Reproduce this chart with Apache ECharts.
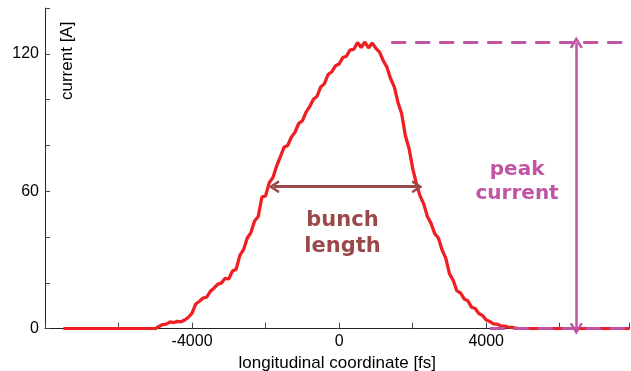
<!DOCTYPE html>
<html><head><meta charset="utf-8">
<script src="https://cdn.jsdelivr.net/npm/echarts@6/dist/echarts.min.js"></script>
<style>html,body{margin:0;padding:0;background:#fff}#c{width:631px;height:371px}</style>
</head><body><div id="c"></div>
<script>
const xPositions = [-7500,-5000,-4900,-4800,-4700,-4600,-4500,-4400,-4300,-4200,-4100,-4000,-3900,-3800,-3700,-3600,-3500,-3400,-3300,-3200,-3100,-3000,-2900,-2800,-2700,-2600,-2500,-2400,-2300,-2200,-2100,-2000,-1900,-1800,-1700,-1600,-1500,-1400,-1300,-1200,-1100,-1000,-900,-800,-700,-600,-500,-400,-300,-200,-100,0,100,200,300,400,500,600,700,800,900,1000,1100,1200,1300,1400,1500,1600,1700,1800,1900,2000,2100,2200,2300,2400,2500,2600,2700,2800,2900,3000,3100,3200,3300,3400,3500,3600,3700,3800,3900,4000,4100,4200,4300,4400,4500,4600,4700,4800,4900,7900];
const currentValues = [0,0,
  1.0,1.8,2.0,3.0,2.7,3.2,3.0,3.8,5.0,6.8,
  10.8,12.0,13.4,13.8,16.4,17.8,19.4,20.0,22.0,21.8,
  25.2,26.0,32.0,34.5,39.5,42.0,47.0,49.0,57.5,58.0,
  63.8,66.0,71.0,75.0,79.2,80.0,83.6,85.8,89.6,90.8,
  94.6,97.0,100.2,101.5,105.6,107.0,111.0,112.2,114.8,115.6,
  118.4,119.0,121.8,122.0,125.0,122.8,125.2,122.6,124.8,122.4,
  120.8,117.0,114.2,109.2,105.6,98.8,94.0,84.4,78.8,70.0,
  63.4,58.0,54.5,49.0,46.0,41.5,39.6,34.4,30.8,24.0,
  21.2,16.6,15.6,13.0,12.2,9.4,8.8,6.6,5.8,3.8,
  3.1,2.1,2.0,1.2,1.1,0.7,0.6,0.3,0,
  0];
const xTickLabels = ['-4000','0','4000'];
const yTickLabels = ['0','60','120'];
const peakCurrent = 125;
const bunchLengthEnds = [-1770, 2120];
const bunchLengthLevel = 62;
const peakArrowX = 6450;
const peakLineStartX = 1415;
const zeroLineStartX = 4100;
const xMin = -8000, xMax = 7900;

const RED = '#ee2024', BROWN = '#9a4849', PINK = '#c155a5';
const chevron = 'path://M0,9 L5,0 L10,9 L8.3,10 L5,4 L1.7,10 Z';

const chart = echarts.init(document.getElementById('c'));
chart.setOption({
  animation: false,
  grid: {left: 45, right: 1.4, top: 8.1, bottom: 42.3, containLabel: false, outerBoundsMode: 'none'},
  xAxis: {
    type: 'value', min: xMin, max: xMax, interval: 2000,
    axisLine: {onZero: false, lineStyle: {color: '#222', width: 1}},
    axisTick: {inside: true, length: 6, lineStyle: {color: '#444'}},
    splitLine: {show: false},
    axisLabel: {color: '#000', fontFamily: 'Liberation Sans', fontSize: 16, margin: 5,
      formatter: v => xTickLabels.includes(String(v)) ? String(v) : ''},
    name: 'longitudinal coordinate [fs]', nameLocation: 'middle', nameGap: 21,
    nameTextStyle: {color: '#000', fontFamily: 'Liberation Sans', fontSize: 17}
  },
  yAxis: {
    type: 'value', min: 0, max: 140, interval: 20,
    axisLine: {show: true, onZero: false, lineStyle: {color: '#222', width: 1}},
    axisTick: {show: true, inside: true, length: 5, lineStyle: {color: '#444'}},
    splitLine: {show: false},
    axisLabel: {color: '#000', fontFamily: 'Liberation Sans', fontSize: 16, margin: 6,
      formatter: v => yTickLabels.includes(String(v)) ? String(v) : ''}
  },
  graphic: [{
    type: 'text', x: 67, y: 100, rotation: Math.PI / 2,
    style: {text: 'current [A]', fill: '#000', font: '17px "Liberation Sans"', align: 'left', verticalAlign: 'middle'}
  }],
  series: [{
    type: 'line', data: xPositions.map((x, i) => [x, currentValues[i]]),
    showSymbol: false, symbol: 'none', lineStyle: {color: RED, width: 3.3}, z: 2,
    markLine: {
      silent: true, animation: false,
      label: {show: false},
      data: [
        [{coord: [bunchLengthEnds[0], bunchLengthLevel], symbol: chevron, symbolSize: [13, 11]},
         {coord: [bunchLengthEnds[1], bunchLengthLevel], symbol: chevron, symbolSize: [13, 11],
          lineStyle: {color: BROWN, width: 3, type: 'solid'}}],
        [{coord: [peakLineStartX, peakCurrent], symbol: 'none'},
         {coord: [xMax, peakCurrent], symbol: 'none', lineStyle: {color: PINK, width: 3, type: [15, 9]}}],
        [{coord: [zeroLineStartX, 0], symbol: 'none'},
         {coord: [xMax, 0], symbol: 'none', lineStyle: {color: PINK, width: 3, type: [15, 9]}}],
        [{coord: [peakArrowX, 0], symbol: chevron, symbolSize: [13, 12]},
         {coord: [peakArrowX, peakCurrent], symbol: chevron, symbolSize: [13, 12],
          lineStyle: {color: PINK, width: 2.5, type: 'solid'}}]
      ]
    },
    markPoint: {
      silent: true, symbol: 'circle', symbolSize: 0,
      data: [
        {coord: [90, 41.5], label: {show: true, position: 'inside', formatter: 'bunch\nlength',
          color: BROWN, fontFamily: 'DejaVu Sans', fontWeight: 'bold', fontSize: 21, lineHeight: 26, align: 'center'}},
        {coord: [4840, 64], label: {show: true, position: 'inside', formatter: 'peak\ncurrent',
          color: PINK, fontFamily: 'DejaVu Sans', fontWeight: 'bold', fontSize: 20, lineHeight: 24, align: 'center'}}
      ]
    }
  }]
});
</script></body></html>
